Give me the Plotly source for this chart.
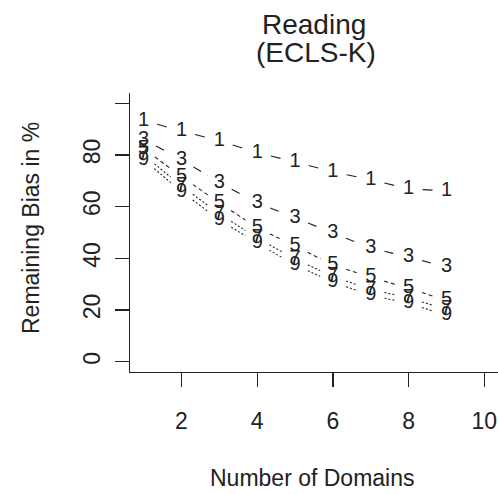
import plotly.graph_objects as go

# ---- data ----
domains = [1, 2, 3, 4, 5, 6, 7, 8, 9]
series_labels = ["1", "3", "5", "7", "9"]
bias_1 = [93.3, 89.3, 85.5, 80.9, 77.3, 73.5, 70.4, 66.9, 66.1]
bias_3 = [86.0, 78.2, 69.3, 61.5, 55.7, 49.8, 44.0, 40.5, 36.6]
bias_5 = [82.5, 71.6, 61.5, 51.8, 44.8, 37.4, 32.7, 28.4, 23.7]
bias_7 = [80.0, 68.0, 57.2, 47.9, 39.7, 33.0, 27.9, 24.7, 20.2]
bias_9 = [78.2, 65.8, 54.9, 45.9, 37.4, 30.8, 25.7, 22.6, 17.9]
x_ticks = [2, 4, 6, 8, 10]
y_ticks = [0, 20, 40, 60, 80, 100]
y_ticktext = ["0", "20", "40", "60", "80", ""]

series_values = [bias_1, bias_3, bias_5, bias_7, bias_9]
series_dash = ["10px,8px", "9px,7px", "4px,3px", "2px,2px", "2px,2px"]

# ---- layout constants (body margin removed by post_script) ----
OFF = 0
W, H = 498, 494
ML, MR, MT, MB = 130, 0, 93, 122
XR = [0.64, 10.36]
YR = [-4, 104]
PW, PH = W - ML - MR, H - MT - MB
PXX = PW / (XR[1] - XR[0])
PXY = PH / (YR[1] - YR[0])
GAP = 14  # gap (px) around each point label, like R type="b"
FONT = "Liberation Sans, Arial, sans-serif"
INK = "#222"


def trimmed(xs, ys):
    lx, ly = [], []
    for i in range(len(xs) - 1):
        dx = (xs[i + 1] - xs[i]) * PXX
        dy = (ys[i + 1] - ys[i]) * PXY
        length = (dx * dx + dy * dy) ** 0.5
        f = GAP / length
        if f >= 0.5:
            continue
        lx += [xs[i] + (xs[i + 1] - xs[i]) * f, xs[i + 1] - (xs[i + 1] - xs[i]) * f, None]
        ly += [ys[i] + (ys[i + 1] - ys[i]) * f, ys[i + 1] - (ys[i + 1] - ys[i]) * f, None]
    return lx, ly


def px_x(px):  # page x pixel -> paper coordinate
    return (px - OFF - ML) / PW


def px_y(py):  # page y pixel -> paper coordinate
    return (MT + PH - (py - OFF)) / PH


fig = go.Figure()
for lab, vals, dash in zip(series_labels, series_values, series_dash):
    lx, ly = trimmed(domains, vals)
    fig.add_trace(go.Scatter(x=lx, y=ly, mode="lines",
                             line=dict(color=INK, width=1.1, dash=dash),
                             showlegend=False, hoverinfo="skip"))
    fig.add_trace(go.Scatter(x=domains, y=vals, mode="text", text=[lab] * len(domains),
                             textposition="middle center",
                             textfont=dict(family=FONT, size=20, color=INK),
                             showlegend=False, name=lab))

axis_common = dict(showgrid=False, zeroline=False, showline=True, linecolor=INK, linewidth=1.3,
                   ticks="outside", ticklen=14, tickwidth=1.3, tickcolor=INK,
                   tickfont=dict(size=23, family=FONT, color=INK))

fig.update_layout(
    width=W, height=H,
    margin=dict(l=ML, r=MR, t=MT, b=MB, pad=0),
    paper_bgcolor="white", plot_bgcolor="white",
    font=dict(family=FONT, size=23, color=INK),
    hovermode=False,
    xaxis=dict(range=XR, tickvals=x_ticks, ticktext=[str(t) for t in x_ticks],
               ticklabelstandoff=14, ticklabeloverflow="allow", **axis_common),
    yaxis=dict(range=YR, tickvals=y_ticks, ticktext=y_ticktext, tickangle=-90,
               ticklabelstandoff=6, **axis_common),
    annotations=[
        dict(text="Reading", xref="paper", yref="paper", x=px_x(314), y=px_y(24),
             xanchor="center", yanchor="middle", showarrow=False,
             font=dict(size=28, family=FONT, color=INK)),
        dict(text="(ECLS-K)", xref="paper", yref="paper", x=px_x(316), y=px_y(52),
             xanchor="center", yanchor="middle", showarrow=False,
             font=dict(size=28, family=FONT, color=INK)),
        dict(text="Number of Domains", xref="paper", yref="paper", x=px_x(312),
             y=px_y(478), xanchor="center", yanchor="middle", showarrow=False,
             font=dict(size=23, family=FONT, color=INK)),
        dict(text="Remaining Bias in %", xref="paper", yref="paper", x=px_x(31),
             y=px_y(228), xanchor="center", yanchor="middle", textangle=-90,
             showarrow=False, font=dict(size=23, family=FONT, color=INK)),
    ],
)

fig.write_html(
    "out.html",
    config={"displayModeBar": False, "staticPlot": True},
    post_script="document.body.style.margin='0';document.body.style.overflow='hidden';",
)
